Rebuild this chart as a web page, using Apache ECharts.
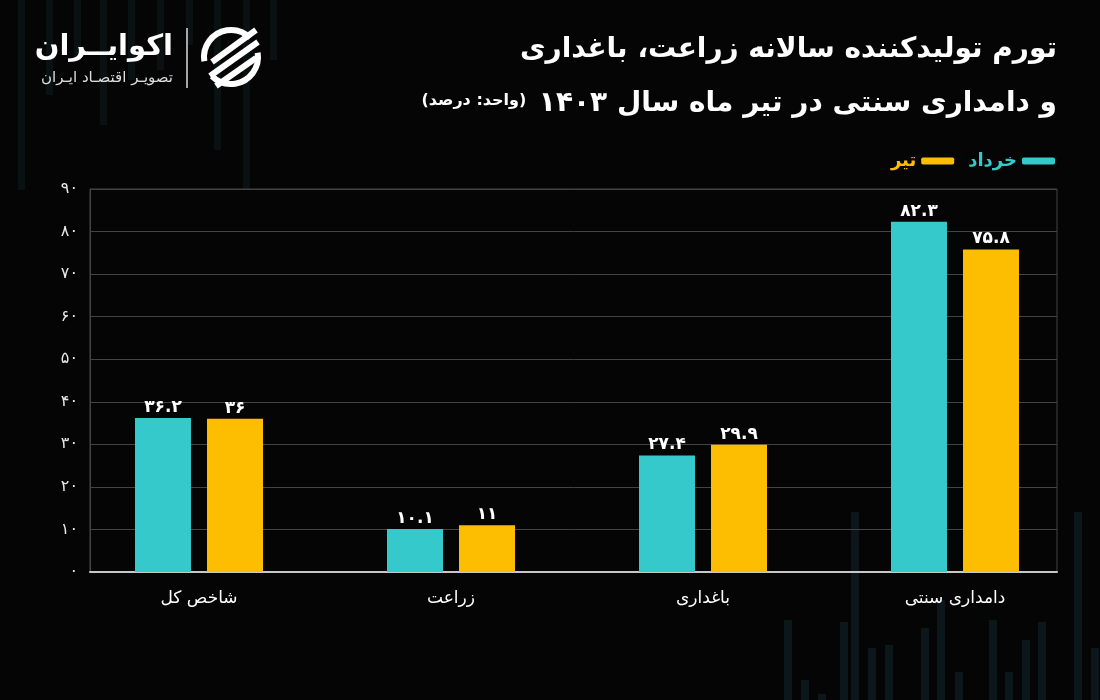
<!DOCTYPE html>
<html>
<head>
<meta charset="utf-8">
<script src="https://cdn.jsdelivr.net/npm/echarts@6/dist/echarts.min.js"></script>
<style>html,body{margin:0;padding:0;background:#050505;}#c{width:1100px;height:700px;}</style>
</head>
<body>
<div id="c"></div>
<script>
const categories = ['شاخص کل', 'زراعت', 'باغداری', 'دامداری سنتی'];
const khordad = [36.2, 10.1, 27.4, 82.3];
const tir = [36, 11, 29.9, 75.8];
const seriesNames = ['خرداد', 'تیر'];
const yMin = 0, yMax = 90, yStep = 10;
const titleLine1 = 'تورم تولیدکننده سالانه زراعت، باغداری';
const titleLine2 = 'و دامداری سنتی در تیر ماه سال ۱۴۰۳';
const unitText = '(واحد: درصد)';

const FA = '۰۱۲۳۴۵۶۷۸۹';
const toFa = v => String(v).replace(/\d/g, d => FA[d]);
const FONT = 'DejaVu Sans';
const CYAN = '#35c9cc', GOLD = '#fdbd00';

// decorative faint background stripes
const deco = [];
const tl = [[18,190],[46,95],[74,60],[100,125],[128,80],[157,70],[186,45],[214,150],[243,190],[270,60]];
tl.forEach(([x,h]) => deco.push({type:'rect', silent:true, z:-10, shape:{x:x, y:0, width:7, height:h}, style:{fill:'rgba(30,80,95,0.16)'}}));
const br = [[784,620],[801,680],[818,694],[840,622],[851,512],[868,648],[885,645],[921,628],[937,600],[955,672],[989,620],[1005,672],[1022,640],[1038,622],[1074,512],[1091,648]];
br.forEach(([x,y]) => deco.push({type:'rect', silent:true, z:-10, shape:{x:x, y:y, width:8, height:700-y}, style:{fill:'rgba(30,80,95,0.25)'}}));

const chart = echarts.init(document.getElementById('c'));
chart.setOption({
  backgroundColor: '#050505',
  textStyle: {fontFamily: FONT},
  title: [
    {text: titleLine1, right: 43, top: 36, padding: 0, textStyle:{color:'#fff', fontSize:28, fontWeight:'bold', fontFamily:FONT}},
    {text: '{s|' + unitText + '}  {b|' + titleLine2 + '}', right: 43, top: 90, padding: 0,
     textStyle:{rich:{
       s:{color:'#fff', fontSize:16, fontFamily:FONT, verticalAlign:'middle', padding:[0,0,6,0]},
       b:{color:'#fff', fontSize:28, fontWeight:'bold', fontFamily:FONT, verticalAlign:'middle'}
     }}}
  ],
  legend: {
    right: 45, top: 152, padding: 0, icon: 'roundRect', itemWidth: 33, itemHeight: 7, itemGap: 14, align: 'right',
    textStyle: {fontSize: 18, fontWeight: 'bold', fontFamily: FONT},
    data: [{name: seriesNames[1], textStyle:{color: GOLD}}, {name: seriesNames[0], textStyle:{color: CYAN}}]
  },
  grid: [
    {left: 73, right: 19, top: 189, bottom: 128},
    {left: 90, right: 43, top: 189, bottom: 128, show: true, borderColor: '#444', borderWidth: 1}
  ],
  xAxis: [
    {type:'category', gridIndex:0, data: categories, boundaryGap: true,
     axisLine:{show:false}, axisTick:{show:false},
     axisLabel:{color:'#fff', fontSize:17, margin:18, fontFamily:FONT}},
    {type:'value', gridIndex:1, min:0, max:1, axisLabel:{show:false}, axisTick:{show:false}, splitLine:{show:false},
     axisLine:{show:true, lineStyle:{color:'#c8c8c8', width:2}}}
  ],
  yAxis: [
    {type:'value', gridIndex:0, min:yMin, max:yMax, interval:yStep, show:false},
    {type:'value', gridIndex:1, min:yMin, max:yMax, interval:yStep,
     axisLine:{show:true, lineStyle:{color:'#444'}}, axisTick:{show:false},
     axisLabel:{color:'#e8e8e8', fontSize:16, margin:12, fontFamily:FONT, formatter: v => toFa(v)},
     splitLine:{lineStyle:{color:'#444', width:1}}}
  ],
  series: [
    {name: seriesNames[0], type:'bar', xAxisIndex:0, yAxisIndex:0, data: khordad, barWidth:56, barGap:'28.6%',
     itemStyle:{color: CYAN},
     label:{show:true, position:'top', distance:2, color:'#fff', fontSize:17, fontWeight:'bold', fontFamily:FONT, formatter: p => toFa(p.value)}},
    {name: seriesNames[1], type:'bar', xAxisIndex:0, yAxisIndex:0, data: tir, barWidth:56, barGap:'28.6%',
     itemStyle:{color: GOLD},
     label:{show:true, position:'top', distance:2, color:'#fff', fontSize:17, fontWeight:'bold', fontFamily:FONT, formatter: p => toFa(p.value)}}
  ],
  graphic: deco.concat([
    {type:'text', silent:true, style:{text:'اکوایــران', x:173, y:47, align:'right', verticalAlign:'middle', textAlign:'right', textVerticalAlign:'middle', fill:'#fff', font:'bold 29px DejaVu Sans'}},
    {type:'text', silent:true, style:{text:'تصویـر اقتصـاد ایـران', x:173, y:78, align:'right', verticalAlign:'middle', textAlign:'right', textVerticalAlign:'middle', fill:'#ddd', font:'15px DejaVu Sans'}},
    {type:'line', silent:true, shape:{x1:187, y1:28, x2:187, y2:88}, style:{stroke:'#ddd', lineWidth:1.5}},
    {type:'arc', silent:true, shape:{cx:231, cy:57, r:27, startAngle:Math.PI*0.95, endAngle:Math.PI*1.75}, style:{stroke:'#fff', lineWidth:6, fill:null}},
    {type:'arc', silent:true, shape:{cx:231, cy:57, r:27, startAngle:-Math.PI*0.05, endAngle:Math.PI*0.75}, style:{stroke:'#fff', lineWidth:6, fill:null}},
    {type:'line', silent:true, shape:{x1:212, y1:62, x2:256, y2:30}, style:{stroke:'#fff', lineWidth:6}},
    {type:'line', silent:true, shape:{x1:210, y1:76, x2:258, y2:42}, style:{stroke:'#fff', lineWidth:6}},
    {type:'line', silent:true, shape:{x1:216, y1:86, x2:256, y2:58}, style:{stroke:'#fff', lineWidth:6}}
  ])
});
</script>
</body>
</html>
